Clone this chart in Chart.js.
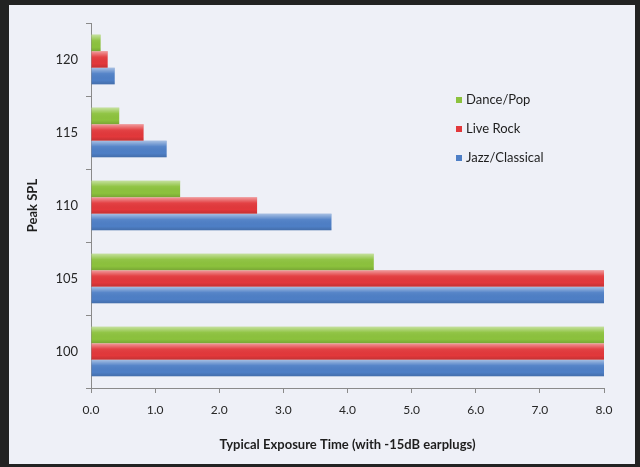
<!DOCTYPE html>
<html>
<head>
<meta charset="utf-8">
<title>Peak SPL vs typical exposure time</title>
<script src="https://cdn.jsdelivr.net/npm/chart.js@4/dist/chart.umd.min.js"></script>
<style>
  html, body { margin: 0; padding: 0; width: 640px; height: 467px; overflow: hidden; background: #222; }
  #panel { position: absolute; left: 9px; top: 5px; width: 626px; height: 459px; background: #eef0f7; }
  #splChart { display: block; }
</style>
</head>
<body>
<div id="panel"><canvas id="splChart" width="626" height="459"></canvas></div>
<script>
// peak sound level categories, top to bottom
const peakLevels = ['120', '115', '110', '105', '100'];

// typical exposure time (hours) with -15dB earplugs
const dancePop      = [0.15, 0.44, 1.39, 4.41, 8.0];
const liveRock      = [0.26, 0.82, 2.59, 8.0, 8.0];
const jazzClassical = [0.37, 1.18, 3.75, 8.0, 8.0];

const seriesNames  = ['Dance/Pop', 'Live Rock', 'Jazz/Classical'];
const seriesColors = ['#8cc23d', '#e2383b', '#4e7fc6'];

Chart.defaults.font.family = 'Lato, "Open Sans", sans-serif';
Chart.defaults.color = '#262626';

// glossy shading over each bar, light on top and a bit darker at the bottom
const barGloss = {
    id: 'barGloss',
    afterDatasetsDraw(chart) {
        const ctx = chart.ctx;
        chart.data.datasets.forEach((ds, i) => {
            const meta = chart.getDatasetMeta(i);
            meta.data.forEach(bar => {
                const p = bar.getProps(['x', 'y', 'base', 'height'], true);
                const top = p.y - p.height / 2;
                const g = ctx.createLinearGradient(0, top, 0, top + p.height);
                g.addColorStop(0, 'rgba(255,255,255,0.5)');
                g.addColorStop(0.35, 'rgba(255,255,255,0.05)');
                g.addColorStop(0.75, 'rgba(0,0,0,0)');
                g.addColorStop(1, 'rgba(0,0,0,0.14)');
                ctx.save();
                ctx.fillStyle = g;
                ctx.fillRect(p.base, top, p.x - p.base, p.height);
                ctx.restore();
            });
        });
    }
};

// legend block inside the plot, to the right
const sideLegend = {
    id: 'sideLegend',
    afterDraw(chart) {
        const ctx = chart.ctx;
        ctx.save();
        ctx.font = '13px Lato, "Open Sans", sans-serif';
        ctx.textBaseline = 'middle';
        chart.data.datasets.forEach((ds, i) => {
            const y = 95 + i * 29;
            ctx.fillStyle = ds.backgroundColor;
            ctx.fillRect(447, y - 3, 6, 6);
            ctx.fillStyle = '#1e1e1e';
            ctx.fillText(ds.label, 457, y);
        });
        ctx.restore();
    }
};

new Chart(document.getElementById('splChart'), {
    type: 'bar',
    data: {
        labels: peakLevels,
        datasets: [
            { label: seriesNames[0], data: dancePop, backgroundColor: seriesColors[0] },
            { label: seriesNames[1], data: liveRock, backgroundColor: seriesColors[1] },
            { label: seriesNames[2], data: jazzClassical, backgroundColor: seriesColors[2] }
        ]
    },
    options: {
        indexAxis: 'y',
        responsive: false,
        devicePixelRatio: 1,
        animation: false,
        barPercentage: 1.0,
        categoryPercentage: 0.68,
        layout: { padding: { top: 18, right: 31, left: 0, bottom: 0 } },
        plugins: {
            legend: { display: false },
            tooltip: { enabled: false }
        },
        scales: {
            x: {
                min: 0,
                max: 8,
                ticks: {
                    stepSize: 1,
                    padding: 10,
                    font: { size: 12 },
                    callback: v => Number(v).toFixed(1)
                },
                grid: { drawOnChartArea: false, tickLength: 5, color: '#8a8a8a' },
                border: { color: '#8a8a8a' },
                title: {
                    display: true,
                    text: 'Typical Exposure Time (with -15dB earplugs)',
                    font: { size: 13, weight: 'bold' },
                    color: '#1e1e1e',
                    padding: { top: 0, bottom: 11 }
                },
                afterFit(scale) { scale.height = 76; }
            },
            y: {
                offset: true,
                ticks: { padding: 8, font: { size: 13 } },
                grid: { drawOnChartArea: false, offset: true, tickLength: 5, color: '#8a8a8a' },
                border: { color: '#8a8a8a' },
                title: {
                    display: true,
                    text: 'Peak SPL',
                    font: { size: 13, weight: 'bold' },
                    color: '#1e1e1e',
                    padding: { top: 16, bottom: 0 }
                },
                afterFit(scale) { scale.width = 82; }
            }
        }
    },
    plugins: [barGloss, sideLegend]
});
</script>
</body>
</html>
